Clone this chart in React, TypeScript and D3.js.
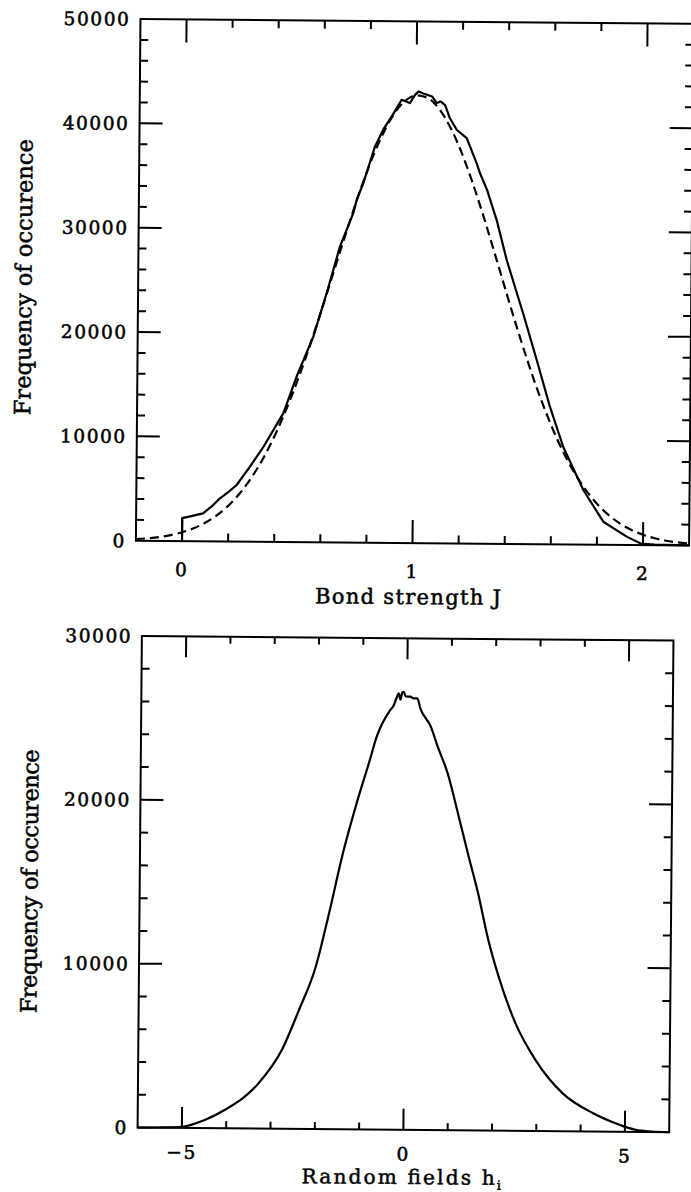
import React from "react";
import * as d3 from "d3";

// ---------- Data ----------
// Top panel: histogram of bond strengths J (solid)
const bondJ = [0, 0, 0.03, 0.09, 0.13, 0.163, 0.2, 0.235, 0.292, 0.35, 0.435, 0.491, 0.562, 0.618, 0.674, 0.731, 0.747, 0.773, 0.822, 0.86, 0.9, 0.936, 0.972, 0.994, 1.009, 1.03, 1.068, 1.089, 1.105, 1.125, 1.145, 1.177, 1.22, 1.264, 1.279, 1.31, 1.353, 1.398, 1.471, 1.532, 1.591, 1.65, 1.739, 1.827, 1.929, 1.99, 2.05, 2.2];
const bondFreq = [0, 2200, 2350, 2680, 3400, 4130, 4750, 5420, 7190, 9110, 12350, 15870, 19700, 23870, 28350, 31600, 33000, 34450, 37960, 39700, 41100, 42480, 42170, 42960, 43290, 43100, 42820, 42190, 42350, 42000, 40800, 39630, 38850, 36450, 35500, 33910, 31030, 27210, 22120, 17650, 13190, 9360, 5230, 2210, 800, 150, 60, 20];

// Top panel: fitted Gaussian (dashed)
const gaussJ = [-0.2, -0.15, -0.1, -0.05, 0, 0.05, 0.1, 0.15, 0.2, 0.25, 0.3, 0.35, 0.4, 0.45, 0.5, 0.55, 0.6, 0.65, 0.7, 0.75, 0.8, 0.85, 0.9, 0.95, 1.0, 1.05, 1.1, 1.15, 1.2, 1.25, 1.3, 1.35, 1.4, 1.45, 1.5, 1.55, 1.6, 1.65, 1.7, 1.75, 1.8, 1.85, 1.9, 1.95, 2.0, 2.05, 2.1, 2.15, 2.2];
const gaussFreq = [160, 240, 370, 570, 850, 1240, 1780, 2500, 3440, 4660, 6180, 8040, 10270, 12860, 15790, 19030, 22500, 26090, 29670, 33110, 36240, 38910, 40980, 42350, 42920, 42670, 41610, 39820, 37370, 34400, 31070, 27530, 23920, 20390, 17050, 13990, 11260, 8880, 6880, 5230, 3890, 2850, 2040, 1430, 990, 670, 440, 290, 190];

// Bottom panel: histogram of random fields h_i
const fieldH = [-6, -5.5, -4.99, -4.5, -4.04, -3.28, -2.76, -2.38, -2.01, -1.72, -1.42, -1.12, -0.83, -0.68, -0.38, -0.3, -0.24, -0.19, -0.15, -0.11, -0.08, -0.03, 0.07, 0.15, 0.23, 0.3, 0.54, 0.7, 0.93, 1.17, 1.4, 1.64, 1.88, 2.12, 2.51, 2.97, 3.59, 4.28, 4.89, 5.2, 5.6, 6];
const fieldFreq = [0, 15, 73, 480, 1115, 2760, 4810, 7260, 9910, 13170, 16840, 19900, 22550, 23980, 25610, 25900, 26350, 26640, 26250, 26700, 26730, 26450, 26440, 26330, 26340, 25730, 24620, 23400, 21780, 19340, 16910, 14470, 11630, 9400, 6560, 4330, 2310, 1110, 410, 150, 30, 0];

// Tick labels
const topXTicks = [0, 1, 2];
const topYTicks = [0, 10000, 20000, 30000, 40000, 50000];
const botXTicks = [-5, 0, 5];
const botYTicks = [0, 10000, 20000, 30000];

const FONT = "'DejaVu Serif', serif";
const fmt = d3.format("d");

type PanelProps = {
  x: d3.ScaleLinear<number, number>;
  y: d3.ScaleLinear<number, number>;
  xMajor: number[];
  xMinor: number[];
  yMajor: number[];
  yMinor: number[];
  xMajLen: number;
  xMinLen: number;
  yMajLen: number;
  yMinLen: number;
  xLabels: number[];
  yLabels: number[];
  xLabelBase: number;
  yLabelRight: number;
};

function Panel(p: PanelProps) {
  const [x0, x1] = p.x.range();
  const [y0, y1] = p.y.range();
  const st = { stroke: "#000", strokeWidth: 2, fill: "none" } as const;
  return (
    <g>
      <rect x={x0} y={y1} width={x1 - x0} height={y0 - y1} {...st} />
      {p.xMajor.map((v) => (
        <g key={"xM" + v}>
          <line x1={p.x(v)} x2={p.x(v)} y1={y0} y2={y0 - p.xMajLen} {...st} />
          <line x1={p.x(v)} x2={p.x(v)} y1={y1} y2={y1 + p.xMajLen} {...st} />
        </g>
      ))}
      {p.xMinor.map((v) => (
        <g key={"xm" + v}>
          <line x1={p.x(v)} x2={p.x(v)} y1={y0} y2={y0 - p.xMinLen} {...st} />
          <line x1={p.x(v)} x2={p.x(v)} y1={y1} y2={y1 + p.xMinLen} {...st} />
        </g>
      ))}
      {p.yMajor.map((v) => (
        <g key={"yM" + v}>
          <line x1={x0} x2={x0 + p.yMajLen} y1={p.y(v)} y2={p.y(v)} {...st} />
          <line x1={x1} x2={x1 - p.yMajLen} y1={p.y(v)} y2={p.y(v)} {...st} />
        </g>
      ))}
      {p.yMinor.map((v) => (
        <g key={"ym" + v}>
          <line x1={x0} x2={x0 + p.yMinLen} y1={p.y(v)} y2={p.y(v)} {...st} />
          <line x1={x1} x2={x1 - p.yMinLen} y1={p.y(v)} y2={p.y(v)} {...st} />
        </g>
      ))}
      {p.xLabels.map((v) => (
        <text key={"xl" + v} x={p.x(v)} y={p.xLabelBase} textAnchor="middle"
          fontFamily={FONT} fontSize={18.5} letterSpacing={1.6} fill="#000" stroke="#000" strokeWidth={0.55}>
          {fmt(v)}
        </text>
      ))}
      {p.yLabels.map((v) => (
        <text key={"yl" + v} x={p.yLabelRight + 1.6} y={p.y(v) + 6.7} textAnchor="end"
          fontFamily={FONT} fontSize={18.5} letterSpacing={1.6} fill="#000" stroke="#000" strokeWidth={0.55}>
          {fmt(v)}
        </text>
      ))}
    </g>
  );
}

const near = (a: number, b: number) => Math.abs(a - b) < 1e-6;

export default function App() {
  const xTop = d3.scaleLinear().domain([-0.2, 2.2]).range([135.4, 688.6]);
  const yTop = d3.scaleLinear().domain([0, 50000]).range([543, 21.3]);
  const xBot = d3.scaleLinear().domain([-6, 6]).range([142.2, 673.8]);
  const yBot = d3.scaleLinear().domain([0, 30000]).range([1129.8, 638.2]);

  const topXMinor = d3.range(-2, 23, 2).map((i) => i / 10).filter((v) => !near(v, Math.round(v)) && v > -0.19 && v < 2.19);
  const topYMinor = d3.range(2000, 50000, 2000).filter((v) => v % 10000 !== 0);
  const topYMajor = d3.range(10000, 50000, 10000);
  const botXMinor = d3.range(-5, 6).filter((v) => v % 5 !== 0);
  const botYMinor = d3.range(2000, 30000, 2000).filter((v) => v % 10000 !== 0);
  const botYMajor = d3.range(10000, 30000, 10000);

  const topSolid = d3.line<number>().x((_, i) => xTop(bondJ[i])).y((_, i) => yTop(bondFreq[i]));
  const topDash = d3.line<number>().x((_, i) => xTop(gaussJ[i])).y((_, i) => yTop(gaussFreq[i])).curve(d3.curveMonotoneX);
  const botLine = d3.line<number>().x((_, i) => xBot(fieldH[i])).y((_, i) => yBot(fieldFreq[i])).curve(d3.curveMonotoneX);

  const titleProps = { fontFamily: FONT, fill: "#000", stroke: "#000", strokeWidth: 0.5 } as const;

  return (
    <svg width={691} height={1192} style={{ position: "absolute", left: 0, top: 0, display: "block", background: "#fff" }}>
      <rect x={0} y={0} width={691} height={1192} fill="#fff" />
      <g transform="rotate(0.5 400 600)">
        {/* Top panel */}
        <Panel x={xTop} y={yTop} xMajor={topXTicks} xMinor={topXMinor} yMajor={topYMajor} yMinor={topYMinor}
          xMajLen={23} xMinLen={8} yMajLen={23} yMinLen={8}
          xLabels={topXTicks} yLabels={topYTicks} xLabelBase={578} yLabelRight={123.8} />
        <path d={topDash(gaussJ) || ""} fill="none" stroke="#000" strokeWidth={2.2} strokeDasharray="9,5" />
        <path d={topSolid(bondJ) || ""} fill="none" stroke="#000" strokeWidth={2.2} strokeLinejoin="round" />
        <text x={408} y={604} textAnchor="middle" fontSize={21} textLength={186} lengthAdjust="spacing" {...titleProps}>
          Bond strength J
        </text>
        <text transform="translate(28.7,280.5) rotate(-90)" textAnchor="middle" fontSize={22.5} textLength={276} lengthAdjust="spacing" {...titleProps}>
          Frequency of occurence
        </text>

        {/* Bottom panel */}
        <Panel x={xBot} y={yBot} xMajor={botXTicks} xMinor={botXMinor} yMajor={botYMajor} yMinor={botYMinor}
          xMajLen={21} xMinLen={7} yMajLen={23} yMinLen={8}
          xLabels={botXTicks} yLabels={botYTicks} xLabelBase={1160.5} yLabelRight={131} />
        <path d={botLine(fieldH) || ""} fill="none" stroke="#000" strokeWidth={2.2} strokeLinejoin="round" />
        <text x={306.7} y={1184} textAnchor="start" fontSize={20} textLength={193} lengthAdjust="spacing" {...titleProps}>
          Random fields h
        </text>
        <text x={502} y={1189} textAnchor="start" fontSize={13} {...titleProps}>
          i
        </text>
        <text transform="translate(40,884.5) rotate(-90)" textAnchor="middle" fontSize={22.5} textLength={264} lengthAdjust="spacing" {...titleProps}>
          Frequency of occurence
        </text>
      </g>
    </svg>
  );
}
